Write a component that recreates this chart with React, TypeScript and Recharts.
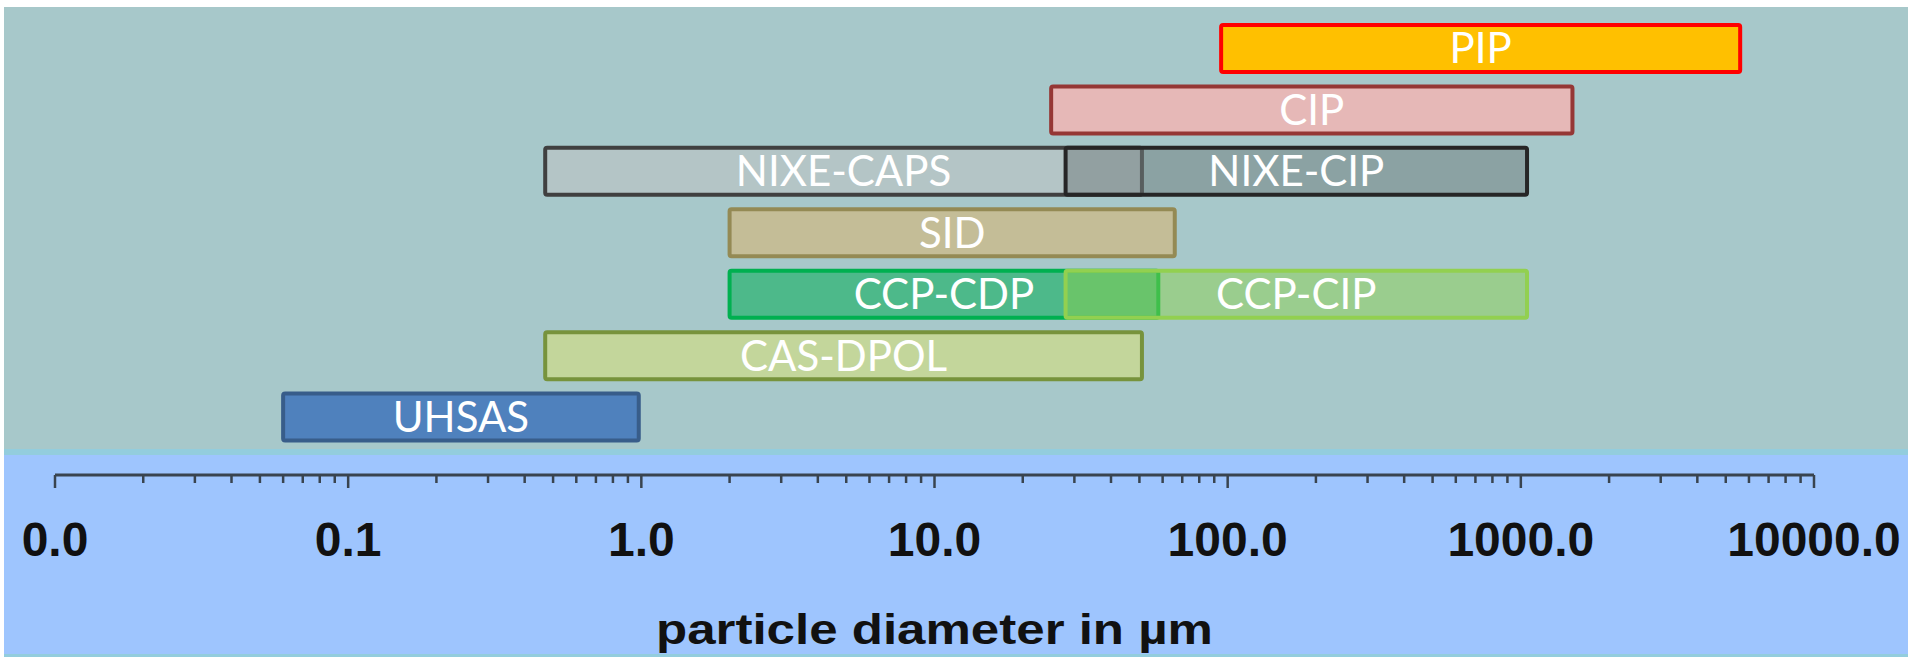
import { BarChart, Bar, XAxis, YAxis, Cell, LabelList } from 'recharts';

// one row per instrument group, top to bottom
const rowNames = ['PIP', 'CIP', 'NIXE', 'SID', 'CCP', 'CAS-DPOL', 'UHSAS'];

// first (or only) probe in each row
const firstLabels = ['PIP', 'CIP', 'NIXE-CAPS', 'SID', 'CCP-CDP', 'CAS-DPOL', 'UHSAS'];
const firstMin = [95, 25, 0.47, 2, 2, 0.47, 0.06];
const firstMax = [5600, 1500, 51, 66, 58, 51, 0.98];

// second probe, only for the combined instruments
const secondLabels = [null, null, 'NIXE-CIP', null, 'CCP-CIP', null, null];
const secondMin = [null, null, 28, null, 28, null, null];
const secondMax = [null, null, 1050, null, 1050, null, null];

// axis ticks (µm)
const majorTicks = [0.01, 0.1, 1, 10, 100, 1000, 10000];
const minorSteps = [2, 3, 4, 5, 6, 7, 8, 9];

// styles
const firstFill = ['#FFC000', '#E6B8B7', '#B4C5C6', '#C4BD97', '#4DB98A', '#C3D69B', '#4F81BD'];
const firstStroke = ['#FF0000', '#953735', '#404040', '#948A54', '#00B050', '#77933C', '#385D8A'];
const secondFill = ['none', 'none', '#6F7B7C', 'none', '#8CD345', 'none', 'none'];
const secondOpacity = [0, 0, 0.5, 0, 0.45, 0, 0];
const secondStroke = ['none', 'none', '#262626', 'none', '#92D050', 'none', 'none'];

const rows = rowNames.map((name, i) => ({
  name,
  first: [firstMin[i], firstMax[i]],
  second: secondMin[i] != null ? [secondMin[i], secondMax[i]] : null,
  firstLabel: firstLabels[i],
  secondLabel: secondLabels[i],
}));

const xTicks = [
  ...majorTicks,
  ...majorTicks.slice(0, -1).flatMap((m) => minorSteps.map((s) => +(m * s).toPrecision(3))),
].sort((a, b) => a - b);

const AXIS_COLOR = '#39444F';

const AxisTick = (props: any) => {
  const { x, y, payload } = props;
  const v = payload.value;
  const major = majorTicks.includes(v);
  return (
    <g>
      <line x1={x} x2={x} y1={y} y2={y + (major ? 13 : 8)} stroke={AXIS_COLOR} strokeWidth={2.5} />
      {major && (
        <text
          x={x}
          y={y + 81}
          textAnchor="middle"
          fontFamily="'Liberation Sans', Arial, sans-serif"
          fontWeight="bold"
          fontSize={48}
          fill="#111"
        >
          {v.toFixed(1)}
        </text>
      )}
    </g>
  );
};

const AxisTitle = (props: any) => {
  const { viewBox } = props;
  const cx = viewBox.x + viewBox.width / 2;
  return (
    <text
      x={cx}
      y={viewBox.y + 169}
      textAnchor="middle"
      fontFamily="'Liberation Sans', Arial, sans-serif"
      fontWeight="bold"
      fontSize={43}
      textLength={557}
      lengthAdjust="spacingAndGlyphs"
      fill="#111"
    >
      particle diameter in µm
    </text>
  );
};

export default function App() {
  return (
    <div style={{ position: 'absolute', left: 0, top: 0, width: 1915, height: 657, background: '#fff' }}>
      {/* panel backgrounds */}
      <div
        style={{
          position: 'absolute',
          left: 4,
          top: 7,
          width: 1904,
          height: 650,
          background:
            'linear-gradient(to bottom, #A7C8CA 0px, #A7C8CA 442px, #93CDDD 442px, #93CDDD 448px, #9EC5FE 448px, #9EC5FE 647px, #93CDDD 647px)',
        }}
      />
      <div style={{ position: 'absolute', left: 0, top: 0 }}>
        <BarChart
          width={1915}
          height={657}
          data={rows}
          layout="vertical"
          margin={{ top: 18, right: 101, bottom: 0, left: 55 }}
          barSize={47}
          barGap={-47}
        >
          <XAxis
            type="number"
            scale="log"
            domain={[0.01, 10000]}
            allowDataOverflow
            ticks={xTicks}
            interval={0}
            tick={(p: any) => <AxisTick {...p} />}
            tickLine={false}
            tickSize={0}
            tickMargin={0}
            axisLine={{ stroke: AXIS_COLOR, strokeWidth: 3 }}
            height={182}
            label={{ content: AxisTitle }}
          />
          <YAxis type="category" dataKey="name" hide padding={{ top: 0, bottom: 27 }} />
          <Bar dataKey="first" isAnimationActive={false} strokeWidth={4} radius={2}>
            {rows.map((r, i) => (
              <Cell key={r.name} fill={firstFill[i]} stroke={firstStroke[i]} />
            ))}
            <LabelList
              dataKey="firstLabel"
              position="center"
              fill="#fff"
              stroke="none"
              fontSize={42}
              fontFamily="Lato, 'Open Sans', sans-serif"
            />
          </Bar>
          <Bar dataKey="second" isAnimationActive={false} strokeWidth={4} radius={2}>
            {rows.map((r, i) => (
              <Cell key={r.name} fill={secondFill[i]} fillOpacity={secondOpacity[i]} stroke={secondStroke[i]} />
            ))}
            <LabelList
              dataKey="secondLabel"
              position="center"
              fill="#fff"
              stroke="none"
              fontSize={42}
              fontFamily="Lato, 'Open Sans', sans-serif"
            />
          </Bar>
        </BarChart>
      </div>
    </div>
  );
}
